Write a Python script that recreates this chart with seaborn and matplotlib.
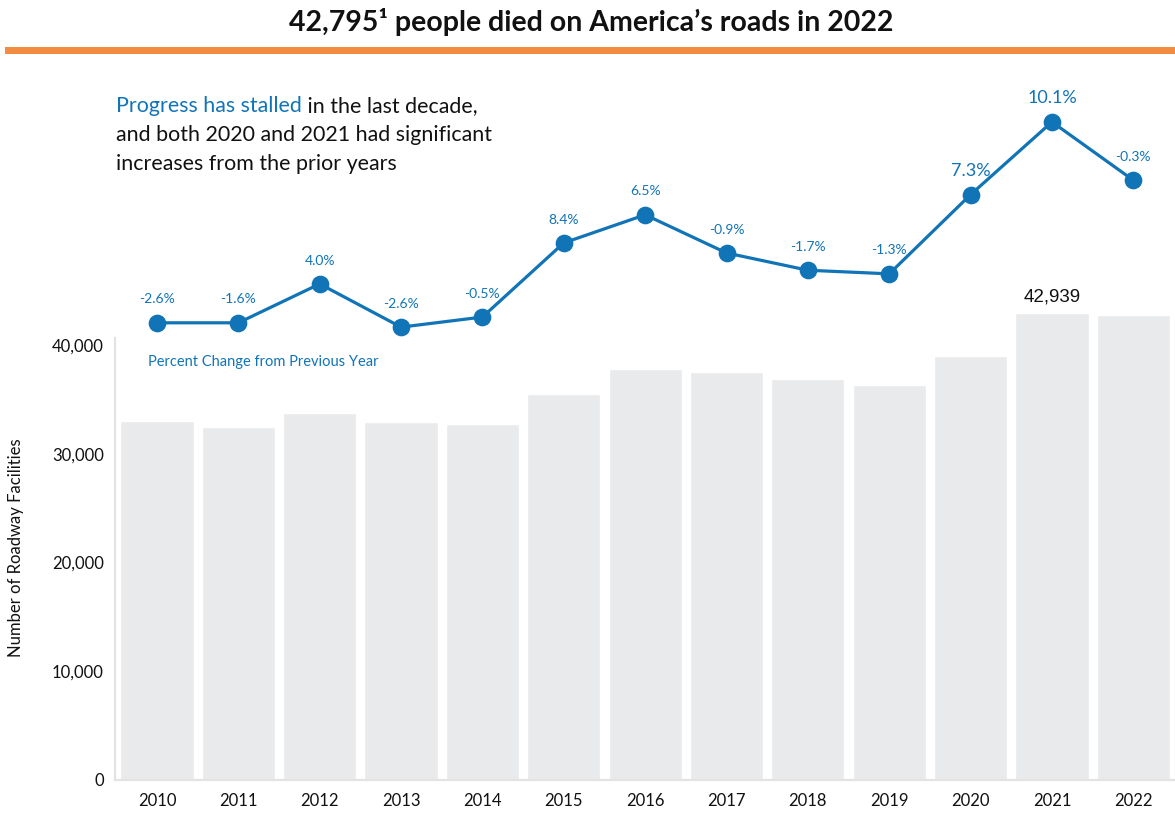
"""US roadway fatalities 2010-2022 with year-over-year percent change."""

import matplotlib
matplotlib.use("Agg")
import matplotlib.pyplot as plt
from matplotlib.patches import Rectangle
from matplotlib.ticker import FuncFormatter
import pandas as pd
import seaborn as sns

years = ["2010", "2011", "2012", "2013", "2014", "2015", "2016",
         "2017", "2018", "2019", "2020", "2021", "2022"]
fatalities = [32999, 32479, 33782, 32893, 32744, 35484, 37806,
              37473, 36835, 36355, 39007, 42939, 42795]
pct_change = [-2.6, -1.6, 4.0, -2.6, -0.5, 8.4, 6.5,
              -0.9, -1.7, -1.3, 7.3, 10.1, -0.3]
# height of the stylised percent-change line (0-100 index)
line_level = [63.5, 63.5, 68.9, 62.9, 64.3, 74.6, 78.5,
              73.2, 70.8, 70.3, 81.3, 91.4, 83.3]
big_labels = {"2020", "2021"}

BLUE = "#1174b7"
BAR = "#e9eaec"
ORANGE = "#f28c40"
SPINE = "#e3e3e3"

df = pd.DataFrame({"year": years, "fatalities": fatalities,
                   "pct": pct_change, "level": line_level})

sns.set_theme(style="white")
plt.rcParams["font.family"] = ["Lato", "DejaVu Sans"]

W, H = 1175, 825
fig = plt.figure(figsize=(W / 100, H / 100), dpi=100)

# main axes: bottom at 780px, top at 60px
ax = fig.add_axes([115 / W, (H - 780) / H, 1059 / W, 720 / H])
sns.barplot(data=df, x="year", y="fatalities", color=BAR, width=0.9,
            saturation=1, ax=ax)
ax.set_xlim(-0.516, 12.5)
ax.set_ylim(0, 66200)
ax.set_yticks([0, 10000, 20000, 30000, 40000])
ax.yaxis.set_major_formatter(FuncFormatter(lambda v, p: f"{v:,.0f}"))
ax.tick_params(axis="both", length=0, labelsize=12, colors="#111111")
ax.tick_params(axis="y", pad=8)
ax.tick_params(axis="x", pad=9)
ax.set_xlabel("")
ax.set_ylabel("Number of Roadway Facilities", fontsize=12, color="#111111")
ax.yaxis.set_label_coords(-0.086, 0.322)
for s in ["top", "right"]:
    ax.spines[s].set_visible(False)
for s in ["left", "bottom"]:
    ax.spines[s].set_color(SPINE)
    ax.spines[s].set_linewidth(1.6)
ax.spines["left"].set_bounds(0, 40600)

peak = df["fatalities"].idxmax()
ax.text(peak, fatalities[peak] + 700, f"{fatalities[peak]:,}",
        ha="center", va="bottom", fontsize=13.5,
        family=["Liberation Sans", "DejaVu Sans"], color="#111111")

ax.text(-0.11, 38400, "Percent Change from Previous Year", color=BLUE,
        fontsize=10.5, va="center", ha="left")

# percent-change line on its own scale
ax2 = ax.twinx()
sns.pointplot(data=df, x="year", y="level", color=BLUE, markersize=11,
              linewidth=2.3, ax=ax2)
ax2.set_xlim(-0.516, 12.5)
ax2.set_ylim(0, 100)
ax2.axis("off")
for i, row in df.iterrows():
    big = row["year"] in big_labels
    ax2.annotate(f"{row['pct']:.1f}%", (i, row["level"]),
                 xytext=(0, 12.5 if not big else 11.5), textcoords="offset points",
                 ha="center", va="bottom", color=BLUE,
                 fontsize=13 if big else 10)

# title and orange rule
fig.text(591 / W, 1 - 22 / H, "42,795\u00b9 people died on America\u2019s roads in 2022",
         ha="center", va="center", fontsize=20.5, fontweight="bold", color="#111111")
fig.add_artist(Rectangle((5 / W, 1 - 54 / H), 1 - 5 / W, 7 / H,
                         transform=fig.transFigure, color=ORANGE, lw=0))

# narrative text
t1 = fig.text(116 / W, 1 - 112 / H, "Progress has stalled", color=BLUE,
              fontsize=15.4, va="baseline", ha="left")
ax.annotate(" in the last decade,", xy=(1, 0), xycoords=t1, va="bottom",
            ha="left", fontsize=15.4, color="#111111", annotation_clip=False)
fig.text(116 / W, 1 - 141 / H, "and both 2020 and 2021 had significant",
         color="#111111", fontsize=15.4, va="baseline", ha="left")
fig.text(116 / W, 1 - 170 / H, "increases from the prior years",
         color="#111111", fontsize=15.4, va="baseline", ha="left")

fig.savefig("out.png", dpi=100)
